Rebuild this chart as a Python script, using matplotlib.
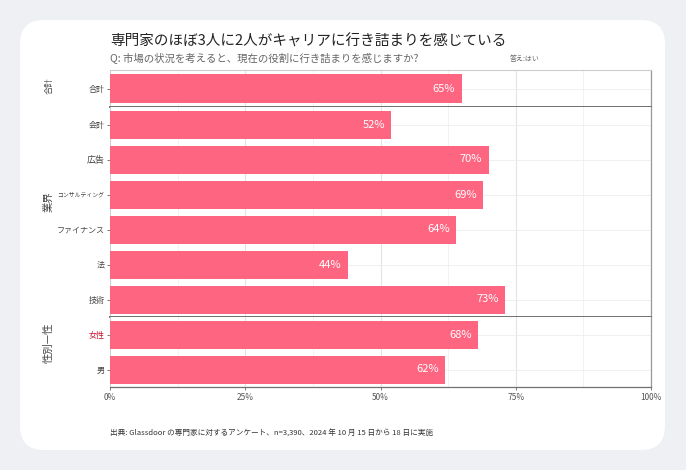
import matplotlib
matplotlib.use("Agg")
import matplotlib.pyplot as plt
from matplotlib.patches import FancyBboxPatch

plt.rcParams['font.family'] = ['Noto Sans CJK JP', 'DejaVu Sans']

title = "専門家のほぼ3人に2人がキャリアに行き詰まりを感じている"
subtitle = "Q: 市場の状況を考えると、現在の役割に行き詰まりを感じますか?"
answer = "答え:はい"
caption = "出典: Glassdoor の専門家に対するアンケート、n=3,390、2024 年 10 月 15 日から 18 日に実施"

groups = ["合計", "業界", "性別—性"]
cats_total = ["合計"]
vals_total = [65]
cats_industry = ["会計", "広告", "コンサルティング", "ファイナンス", "法", "技術"]
vals_industry = [52, 70, 69, 64, 44, 73]
cats_gender = ["女性", "男"]
vals_gender = [68, 62]
xticks = [0, 25, 50, 75, 100]
xticklabels = ["0%", "25%", "50%", "75%", "100%"]

panels = [(cats_total, vals_total), (cats_industry, vals_industry), (cats_gender, vals_gender)]

W, H = 686, 470
fig = plt.figure(figsize=(W/100, H/100), dpi=100)
fig.patch.set_facecolor("#eff0f3")
card = FancyBboxPatch((20/W, 20/H), (665-20)/W, (450-20)/H,
                      boxstyle="round,pad=0,rounding_size=0.035",
                      transform=fig.transFigure, facecolor="white", edgecolor="none",
                      mutation_aspect=W/H, zorder=-10)
fig.patches.append(card)

bar_color = "#fd6580"
left, right = 110/W, 651/W
bounds = [(70, 107), (107, 317), (317, 387)]
group_label_y = [86, 202, 343]
label_sizes = {"広告": 6.5, "コンサルティング": 4.2}

axes = []
for gi, ((cats, vals), (t, b)) in enumerate(zip(panels, bounds)):
    ax = fig.add_axes([left, 1 - b/H, right - left, (b - t)/H])
    ax.set_zorder(1)
    n = len(cats)
    ys = list(range(n))
    ax.barh(ys, vals, height=0.8, color=bar_color, zorder=3)
    ax.set_ylim(n - 0.5, -0.5)
    ax.set_xlim(0, 100)
    ax.set_yticks(ys)
    ax.set_yticklabels(cats)
    for lab, c in zip(ax.get_yticklabels(), cats):
        lab.set_fontsize(label_sizes.get(c, 5.8))
        lab.set_color("#c8102e" if c == "女性" else "#444444")
    ax.set_xticks(xticks)
    ax.set_xticks([12.5, 37.5, 62.5, 87.5], minor=True)
    ax.grid(axis="x", which="major", color="#e4e4e4", lw=0.8, zorder=0)
    ax.grid(axis="x", which="minor", color="#f0f0f0", lw=0.6, zorder=0)
    ax.grid(axis="y", color="#eeeeee", lw=0.6, zorder=0)
    ax.set_axisbelow(True)
    ax.tick_params(axis="y", length=2, width=0.6, color="#666666", pad=2)
    ax.tick_params(axis="x", which="minor", length=0)
    ax.spines["left"].set_color("#cccccc")
    ax.spines["left"].set_linewidth(0.6)
    ax.spines["right"].set_color("#999999")
    ax.spines["right"].set_linewidth(0.9)
    ax.spines["bottom"].set_color("#707070")
    ax.spines["bottom"].set_linewidth(1.4 if gi < 2 else 0.9)
    if gi == 0:
        ax.spines["top"].set_color("#cccccc")
        ax.spines["top"].set_linewidth(0.8)
    else:
        ax.spines["top"].set_visible(False)
    for y, v in zip(ys, vals):
        ax.text(v - 1.2, y, f"{v}%", ha="right", va="center", color="white",
                fontsize=8, zorder=4)
    if gi < 2:
        ax.tick_params(axis="x", length=0, labelbottom=False)
    else:
        ax.set_xticklabels(xticklabels)
        ax.tick_params(axis="x", length=2, width=0.6, color="#666666",
                       labelsize=6, labelcolor="#555555", pad=2)
    fig.text(49/W, 1 - group_label_y[gi]/H, groups[gi], rotation=90, ha="center", va="center",
             fontsize=6 if gi == 0 else 7.5, color="#444444")
    axes.append(ax)

fig.text(110/W, 1 - 42/H, title, fontsize=10.5, color="#222222", va="center", ha="left")
fig.text(110/W, 1 - 58/H, subtitle, fontsize=7.5, color="#666666", va="center", ha="left")
fig.text(510/W, 1 - 59/H, answer, fontsize=5, color="#666666", va="center", ha="left")
fig.text(110/W, 1 - 434/H, caption, fontsize=5.5, color="#333333", va="center", ha="left")

fig.savefig("out.png", dpi=100, facecolor=fig.get_facecolor())
